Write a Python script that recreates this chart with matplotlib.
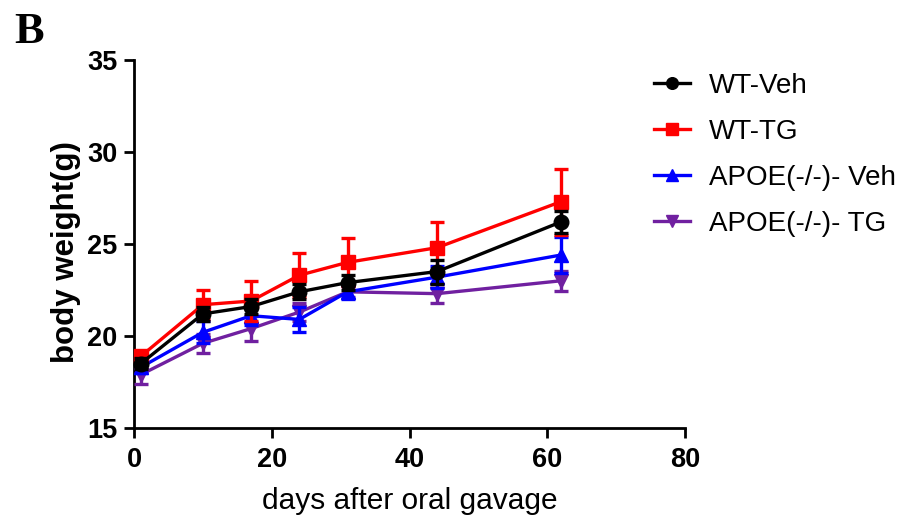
import numpy as np
import matplotlib.pyplot as plt

# days after oral gavage
days = [1, 10, 17, 24, 31, 44, 62]

# body weight (g), mean and error
wt_veh = [18.5, 21.2, 21.6, 22.4, 22.9, 23.5, 26.2]
wt_veh_err = [0.3, 0.4, 0.4, 0.4, 0.4, 0.65, 0.6]
wt_tg = [18.9, 21.7, 21.9, 23.3, 24.0, 24.8, 27.3]
wt_tg_err = [0.3, 0.8, 1.1, 1.2, 1.3, 1.4, 1.8]
apoe_veh = [18.3, 20.2, 21.1, 20.9, 22.4, 23.2, 24.4]
apoe_veh_err = [0.3, 0.6, 0.5, 0.7, 0.4, 0.6, 1.0]
apoe_tg = [17.9, 19.6, 20.4, 21.3, 22.4, 22.3, 23.0]
apoe_tg_err = [0.5, 0.5, 0.7, 0.5, 0.3, 0.5, 0.55]

labels = ['WT-Veh', 'WT-TG', 'APOE(-/-)- Veh', 'APOE(-/-)- TG']

plt.rcParams['font.family'] = ['Liberation Sans', 'DejaVu Sans']

fig = plt.figure(figsize=(9.03, 5.27), dpi=100)
ax = fig.add_axes([0.1484, 0.1879, 0.6102, 0.6983])

# drawn bottom to top: purple, blue, red, black
series = [
    (apoe_tg, apoe_tg_err, '#7020A0', 'v', labels[3]),
    (apoe_veh, apoe_veh_err, '#0000FF', '^', labels[2]),
    (wt_tg, wt_tg_err, '#FF0000', 's', labels[1]),
    (wt_veh, wt_veh_err, '#000000', 'o', labels[0]),
]
handles = {}
for i, (y, err, col, mk, lab) in enumerate(series):
    h = ax.errorbar(days, y, yerr=err, color=col, marker=mk, markersize=10.5,
                    linewidth=2.4, elinewidth=2.4, capsize=5, capthick=2.4,
                    label=lab, zorder=3 + i, clip_on=False)
    handles[lab] = h

ax.set_xlim(0, 80)
ax.set_ylim(15, 35)
ax.set_xticks([0, 20, 40, 60, 80])
ax.set_yticks([15, 20, 25, 30, 35])

for s in ['top', 'right']:
    ax.spines[s].set_visible(False)
for s in ['left', 'bottom']:
    ax.spines[s].set_linewidth(2)

ax.tick_params(direction='out', length=7, width=2, labelsize=19.5)
ax.tick_params(axis='x', pad=7)
ax.tick_params(axis='y', pad=5)
for t in ax.get_xticklabels() + ax.get_yticklabels():
    t.set_fontweight('bold')

ax.set_xlabel('days after oral gavage', fontsize=21.5, labelpad=10)
ax.set_ylabel('body weight(g)', fontsize=22.5, fontweight='bold', labelpad=4.5)
ax.yaxis.label.set_y(0.478)

leg_handles = []
for lab in labels:
    h = handles[lab]
    leg_handles.append(h.lines[0])
ax.legend(leg_handles, labels, loc='upper left', bbox_to_anchor=(0.724, 0.862),
          bbox_transform=fig.transFigure, frameon=False, fontsize=20,
          handlelength=1.3, handletextpad=0.7, labelspacing=0.72,
          borderaxespad=0, borderpad=0, markerscale=0.8)

fig.text(0.016, 0.978, 'B', fontsize=32, fontweight='bold',
         family='Liberation Serif', va='top', ha='left')

fig.savefig('out.png', dpi=100)
